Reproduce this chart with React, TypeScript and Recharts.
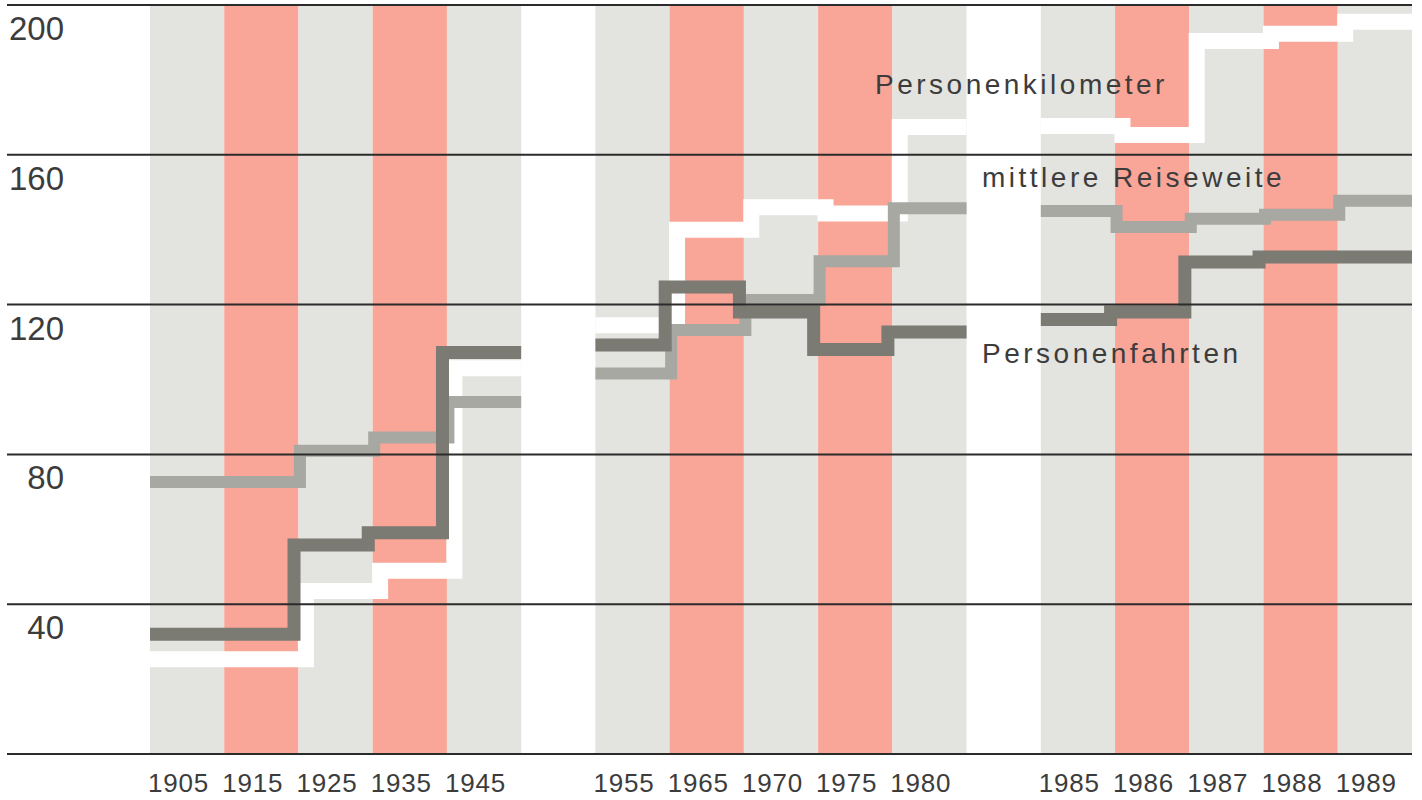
import React from 'react';
import { LineChart, Line, XAxis, YAxis, ReferenceArea, ReferenceLine } from 'recharts';

// Jahre (Spalten), drei Gruppen zu je fünf
const years = ['1905', '1915', '1925', '1935', '1945', '1955', '1965', '1970', '1975', '1980', '1985', '1986', '1987', '1988', '1989'];

// Indexwerte je Spalte
const personenkilometer = [25.3, 25.3, 43.5, 48.9, 103, 114.5, 140, 146, 144.3, 167.4, 167.7, 165.3, 190.4, 192.3, 195.5];
const reiseweite = [72.6, 72.6, 81, 84.5, 94, 101.6, 113.2, 121.2, 131.6, 145.7, 145, 140.7, 142.9, 144, 147.7];
const personenfahrten = [32, 32, 55.8, 59.1, 107.2, 109.2, 124.7, 118, 108, 112.7, 116, 118, 131.4, 132.7, 132.7];

const yTicks = [0, 40, 80, 120, 160, 200];

const GROUP = 5;
const W = 1422;
const H = 800;
const TEXT = '#3c3c3c';
const GRID = '#2b2b2b';
const FONT = '"Liberation Sans", Arial, Helvetica, sans-serif';
const colFill = ['#e3e3df', '#f9a597'];

// one empty slot between the groups
const slotOf = (i: number) => i + Math.floor(i / GROUP);
const slots = years.map((_, i) => slotOf(i));

const buildSteps = (values: number[], shift: number) => {
  const rows: { x: number; v: number | null }[] = [];
  const groups = Math.ceil(values.length / GROUP);
  for (let g = 0; g < groups; g++) {
    for (let k = 0; k < GROUP; k++) {
      const i = g * GROUP + k;
      rows.push({ x: k === 0 ? slotOf(i) : slotOf(i) + shift, v: values[i] });
    }
    const last = g * GROUP + GROUP - 1;
    rows.push({ x: slotOf(last) + 1, v: values[last] });
    if (g < groups - 1) rows.push({ x: slotOf(last) + 1.5, v: null });
  }
  return rows;
};

// left part of the gridline plus the value, tied to the reference line's own y
const GridLabel = (props: any) => {
  const { viewBox, tickValue } = props;
  if (!viewBox) return null;
  const y = viewBox.y;
  return (
    <g>
      <line x1={7} x2={viewBox.x} y1={y} y2={y} stroke={GRID} strokeWidth={2} />
      {tickValue > 0 && (
        <text x={64} y={y + 35} textAnchor="end" fontSize={33} fill={TEXT} fontFamily={FONT}>
          {tickValue}
        </text>
      )}
    </g>
  );
};

const XTick = (props: any) => {
  const { x, payload } = props;
  const idx = slots.indexOf(payload.value);
  return (
    <text x={x - 2} y={792} textAnchor="start" fontSize={26} letterSpacing={0.8} fill={TEXT} fontFamily={FONT}>
      {years[idx]}
    </text>
  );
};

const labelStyle: React.CSSProperties = {
  position: 'absolute',
  fontFamily: FONT,
  fontSize: 28,
  lineHeight: '28px',
  letterSpacing: 3.5,
  color: TEXT,
  whiteSpace: 'nowrap',
};

export default function App() {
  const slotMax = slotOf(years.length - 1) + 1;
  return (
    <div style={{ position: 'absolute', left: 0, top: 0, width: W, height: H, background: '#fff' }}>
      <LineChart width={W} height={H} margin={{ top: 5, right: 10, bottom: 0, left: 150 }}>
        <XAxis
          type="number"
          dataKey="x"
          domain={[0, slotMax]}
          ticks={slots}
          tick={<XTick />}
          axisLine={false}
          tickLine={false}
          height={46}
          allowDataOverflow
        />
        <YAxis type="number" domain={[0, 200]} ticks={yTicks} hide />
        {years.map((yr, i) => (
          <ReferenceArea
            key={yr}
            x1={slots[i]}
            x2={slots[i] + 1}
            y1={0}
            y2={200}
            fill={colFill[(i % GROUP) % 2]}
            fillOpacity={1}
            stroke="none"
          />
        ))}
        <Line
          data={buildSteps(personenkilometer, 0.1)}
          dataKey="v"
          type="stepAfter"
          stroke="#ffffff"
          strokeWidth={16}
          dot={false}
          activeDot={false}
          connectNulls={false}
          isAnimationActive={false}
        />
        <Line
          data={buildSteps(reiseweite, 0.02)}
          dataKey="v"
          type="stepAfter"
          stroke="#a8a8a3"
          strokeWidth={12}
          dot={false}
          activeDot={false}
          connectNulls={false}
          isAnimationActive={false}
        />
        <Line
          data={buildSteps(personenfahrten, -0.06)}
          dataKey="v"
          type="stepAfter"
          stroke="#7b7b74"
          strokeWidth={13}
          dot={false}
          activeDot={false}
          connectNulls={false}
          isAnimationActive={false}
        />
        {yTicks.map((t) => (
          <ReferenceLine
            key={t}
            y={t}
            stroke={GRID}
            strokeWidth={2}
            ifOverflow="visible"
            label={<GridLabel tickValue={t} />}
          />
        ))}
      </LineChart>
      <div style={{ ...labelStyle, left: 875, top: 71 }}>Personenkilometer</div>
      <div style={{ ...labelStyle, left: 982, top: 164 }}>mittlere Reiseweite</div>
      <div style={{ ...labelStyle, left: 982, top: 340 }}>Personenfahrten</div>
    </div>
  );
}
